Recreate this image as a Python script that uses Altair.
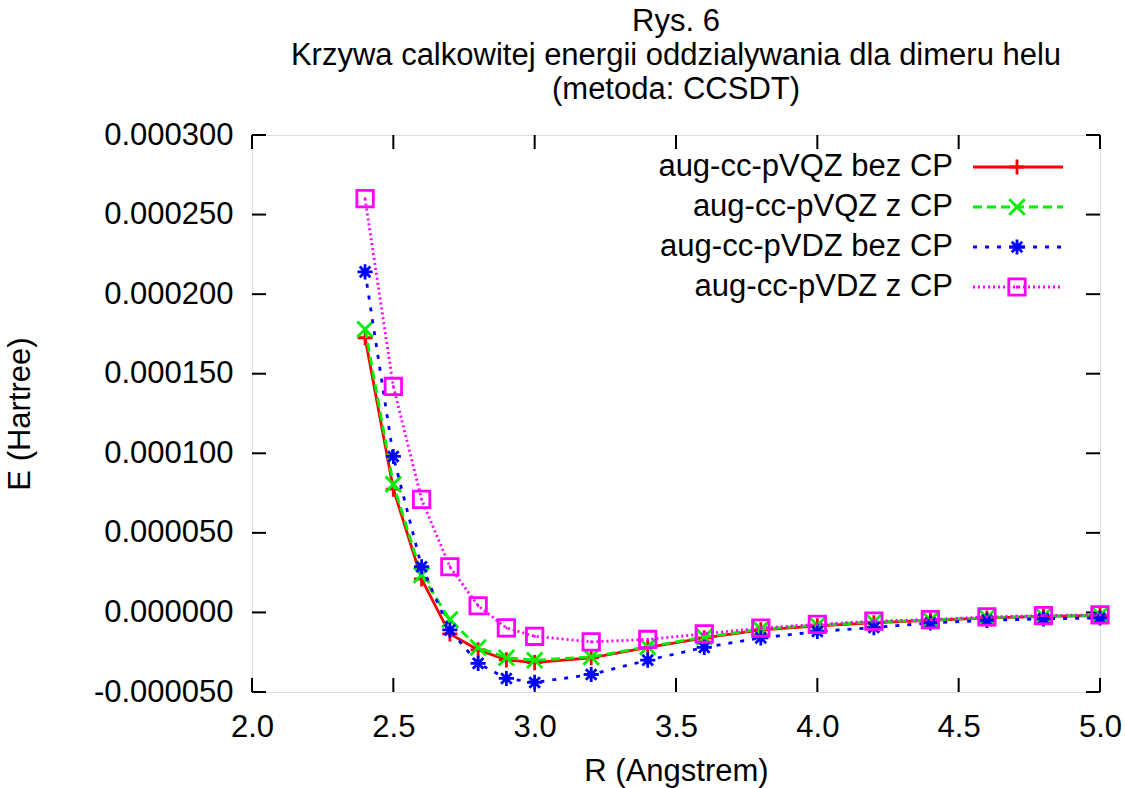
import altair as alt
import pandas as pd

# ---------------- data ----------------
R = [2.4, 2.5, 2.6, 2.7, 2.8, 2.9, 3.0, 3.2, 3.4, 3.6, 3.8, 4.0, 4.2, 4.4, 4.6, 4.8, 5.0]
vqz_bez = [1.726e-4, 7.75e-5, 2.1e-5, -1.35e-5, -2.35e-5, -2.98e-5, -3.15e-5, -2.85e-5, -2.2e-5,
           -1.6e-5, -1.1e-5, -8.5e-6, -6.5e-6, -5.0e-6, -3.5e-6, -2.5e-6, -2.0e-6]
vqz_z = [1.78e-4, 8.05e-5, 2.35e-5, -4.5e-6, -2.2e-5, -2.85e-5, -3.0e-5, -2.8e-5, -2.15e-5,
         -1.55e-5, -1.05e-5, -8.0e-6, -6.0e-6, -4.8e-6, -3.3e-6, -2.3e-6, -1.8e-6]
vdz_bez = [2.14e-4, 9.8e-5, 2.87e-5, -1.1e-5, -3.2e-5, -4.15e-5, -4.4e-5, -3.9e-5, -3.0e-5,
           -2.2e-5, -1.6e-5, -1.2e-5, -9.5e-6, -6.6e-6, -5.0e-6, -4.0e-6, -3.5e-6]
vdz_z = [2.60e-4, 1.42e-4, 7.1e-5, 2.87e-5, 4.2e-6, -9.7e-6, -1.5e-5, -1.85e-5, -1.7e-5,
         -1.35e-5, -9.8e-6, -7.5e-6, -5.5e-6, -4.5e-6, -2.8e-6, -2.0e-6, -1.5e-6]

series_names = ["aug-cc-pVQZ bez CP", "aug-cc-pVQZ z CP", "aug-cc-pVDZ bez CP", "aug-cc-pVDZ z CP"]
series_values = [vqz_bez, vqz_z, vdz_bez, vdz_z]
series_colors = ["#ff0000", "#00ee00", "#0000ff", "#ff00ff"]
series_dash = [[1, 0], [9, 5], [4, 8], [2, 3]]

x_ticks = [2.0, 2.5, 3.0, 3.5, 4.0, 4.5, 5.0]
y_ticks = [-0.00005, 0.0, 0.00005, 0.0001, 0.00015, 0.0002, 0.00025, 0.0003]

title_lines = ["Rys. 6", "Krzywa calkowitej energii oddzialywania dla dimeru helu", "(metoda: CCSDT)"]

# marker shapes (gnuplot style)
PLUS = "M-1,0L1,0M0,-1L0,1"
XMARK = "M-1,-1L1,1M-1,1L1,-1"
STAR = "M-1,0L1,0M0,-1L0,1M-0.7,-0.7L0.7,0.7M-0.7,0.7L0.7,-0.7"
SQUARE = "M-1,-1L1,-1L1,1L-1,1Z M-0.12,0L0.12,0"
series_shapes = [PLUS, XMARK, STAR, SQUARE]
series_sizes = [230, 240, 230, 270]

W, H = 848, 557
FONT = "Liberation Sans"
FS = 31

xscale = alt.Scale(domain=[2.0, 5.0], nice=False, zero=False)
yscale = alt.Scale(domain=[-0.00005, 0.0003], nice=False, zero=False)

xaxis = alt.Axis(values=x_ticks, format=".1f", title="R (Angstrem)", grid=False, ticks=False,
                 domain=False, labelFont=FONT, labelFontSize=FS, labelColor="black",
                 labelFlush=False, labelOverlap=False,
                 labelPadding=20, titleFont=FONT, titleFontSize=FS, titleFontWeight="normal",
                 titleColor="black", titleX=W / 2, titleY=79, titleBaseline="middle")
ylabel_expr = "datum.value < 0 ? '-' + format(-datum.value, '.6f') : format(datum.value, '.6f')"
yaxis = alt.Axis(values=y_ticks, labelExpr=ylabel_expr, title="E (Hartree)", grid=False, ticks=False,
                 domain=False, labelFont=FONT, labelFontSize=FS, labelColor="black",
                 labelFlush=False, labelOverlap=False,
                 labelPadding=19, titleFont=FONT, titleFontSize=FS, titleFontWeight="normal",
                 titleColor="black", titleX=-232, titleY=H / 2, titleBaseline="middle", titleAngle=-90)

layers = []
# base (axes)
base_df = pd.DataFrame({"R": R, "E": vqz_bez})
layers.append(
    alt.Chart(base_df).mark_point(opacity=0).encode(
        x=alt.X("R:Q", scale=xscale, axis=xaxis),
        y=alt.Y("E:Q", scale=yscale, axis=yaxis),
    )
)

# inward ticks
xt = pd.DataFrame({"v": x_ticks})
yt = pd.DataFrame({"v": y_ticks})
TL = 14
tick_style = dict(color="black", strokeWidth=2)
layers.append(alt.Chart(xt).mark_rule(**tick_style).encode(
    x=alt.X("v:Q", scale=xscale), y=alt.value(H - TL), y2=alt.value(H)))
layers.append(alt.Chart(xt).mark_rule(**tick_style).encode(
    x=alt.X("v:Q", scale=xscale), y=alt.value(0), y2=alt.value(TL)))
layers.append(alt.Chart(yt).mark_rule(**tick_style).encode(
    y=alt.Y("v:Q", scale=yscale), x=alt.value(0), x2=alt.value(TL)))
layers.append(alt.Chart(yt).mark_rule(**tick_style).encode(
    y=alt.Y("v:Q", scale=yscale), x=alt.value(W - TL), x2=alt.value(W)))

# series
for i, name in enumerate(series_names):
    df = pd.DataFrame({"R": R, "E": series_values[i]})
    layers.append(alt.Chart(df).mark_line(
        color=series_colors[i], strokeWidth=2.8, strokeDash=series_dash[i], strokeCap="butt").encode(
        x=alt.X("R:Q", scale=xscale), y=alt.Y("E:Q", scale=yscale)))
    layers.append(alt.Chart(df).mark_point(
        shape=series_shapes[i], size=series_sizes[i], filled=False, color=series_colors[i],
        strokeWidth=2.8, opacity=1).encode(
        x=alt.X("R:Q", scale=xscale), y=alt.Y("E:Q", scale=yscale)))

# legend (manual, gnuplot style: label left, sample right)
LEG_Y0, LEG_DY = 32, 40
for i, name in enumerate(series_names):
    ldf = pd.DataFrame({"name": [name]})
    ly = LEG_Y0 + LEG_DY * i
    layers.append(alt.Chart(ldf).mark_text(
        align="right", baseline="middle", font=FONT, fontSize=FS, color="black").encode(
        text="name:N", x=alt.value(701), y=alt.value(ly)))
    layers.append(alt.Chart(ldf).mark_rule(
        color=series_colors[i], strokeWidth=2.8, strokeDash=series_dash[i], strokeCap="butt").encode(
        x=alt.value(721), x2=alt.value(811), y=alt.value(ly)))
    layers.append(alt.Chart(ldf).mark_point(
        shape=series_shapes[i], size=series_sizes[i], filled=False, color=series_colors[i],
        strokeWidth=2.8, opacity=1).encode(x=alt.value(765), y=alt.value(ly)))

chart = alt.layer(*layers).properties(
    width=W, height=H,
    title=alt.TitleParams(text=title_lines, font=FONT, fontSize=FS, fontWeight="normal",
                          color="black", anchor="middle", frame="group", lineHeight=34, offset=13),
    autosize=alt.AutoSizeParams(type="none"),
    padding={"left": 252, "top": 135, "right": 25, "bottom": 96},
).configure_view(stroke="black", strokeWidth=2).configure(background="white")

chart.save("out.html", embed_options={"renderer": "svg", "actions": False})
